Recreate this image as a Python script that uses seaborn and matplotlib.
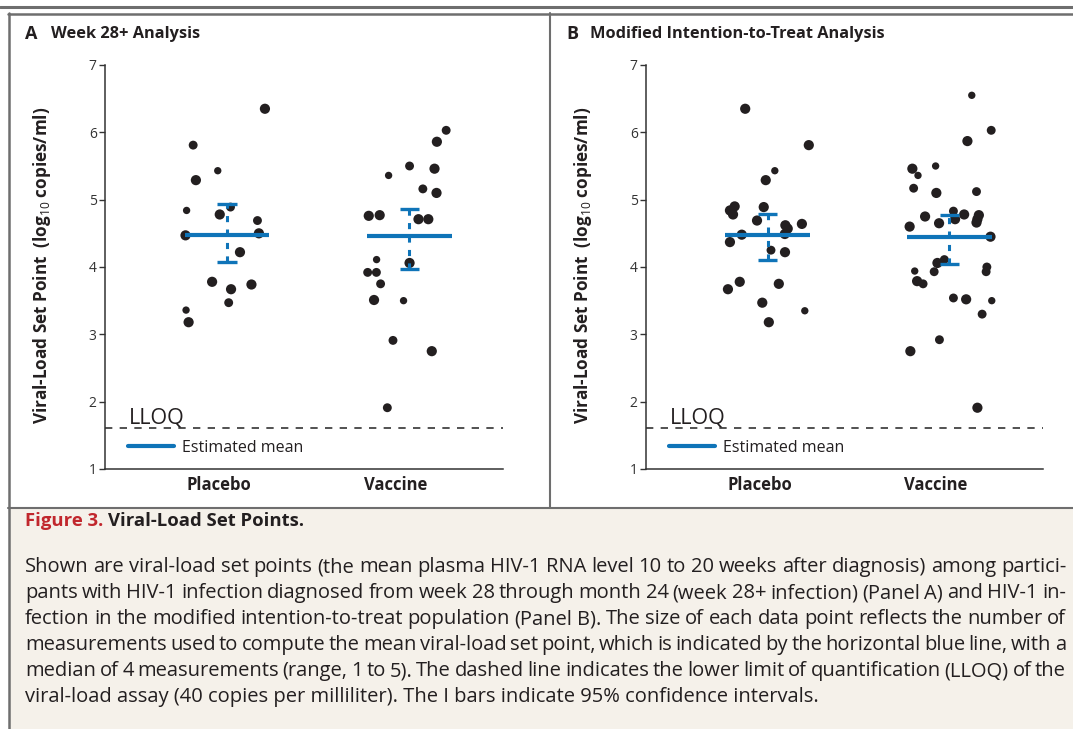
import numpy as np
import pandas as pd
from matplotlib import pyplot as plt
from matplotlib.lines import Line2D
from matplotlib.patches import Rectangle
import seaborn as sns

# Panel A - week 28+ analysis (log10 viral load, number of measurements, horizontal jitter)
a_placebo_vl = [6.35, 5.81, 5.43, 5.29, 4.84, 4.89, 4.78, 4.69, 4.47, 4.50, 4.22, 3.78, 3.67, 3.74, 3.47, 3.36, 3.18]
a_placebo_n = [5, 4, 3, 5, 3, 4, 5, 4, 5, 5, 5, 5, 5, 5, 4, 3, 5]
a_placebo_dx = [0.208, -0.186, -0.051, -0.171, -0.222, 0.019, -0.040, 0.167, -0.228, 0.175, 0.071, -0.082, 0.022, 0.134, 0.009, -0.225, -0.211]

a_vaccine_vl = [6.03, 5.86, 5.50, 5.46, 5.36, 5.16, 5.10, 4.76, 4.77, 4.71, 4.71, 4.11, 4.06, 3.92, 3.92, 3.75, 3.51, 3.50, 2.91, 2.75, 1.91]
a_vaccine_n = [4, 5, 4, 5, 3, 4, 5, 5, 5, 5, 5, 3, 5, 4, 4, 4, 5, 3, 4, 5, 4]
a_vaccine_dx = [0.203, 0.152, 0.002, 0.139, -0.113, 0.075, 0.150, -0.222, -0.162, 0.051, 0.105, -0.179, 0.002, -0.228, -0.180, -0.157, -0.193, -0.031, -0.089, 0.124, -0.120]

a_mean = [4.47, 4.46]
a_ci_low = [4.07, 3.97]
a_ci_high = [4.94, 4.86]

# Panel B - modified intention-to-treat analysis
b_placebo_vl = [6.35, 5.81, 5.43, 5.29, 4.90, 4.84, 4.78, 4.89, 4.69, 4.62, 4.57, 4.64, 4.48, 4.49, 4.37, 4.25, 4.22, 3.78, 3.67, 3.75, 3.47, 3.35, 3.18]
b_placebo_n = [5, 5, 3, 5, 5, 5, 5, 5, 5, 5, 5, 5, 5, 5, 5, 4, 5, 5, 5, 5, 5, 3, 5]
b_placebo_dx = [-0.124, 0.226, 0.039, -0.011, -0.182, -0.208, -0.191, -0.022, -0.059, 0.097, 0.110, 0.188, -0.143, 0.094, -0.208, 0.018, 0.095, -0.154, -0.219, 0.061, -0.030, 0.204, 0.006]

b_vaccine_vl = [6.55, 6.03, 5.87, 5.46, 5.50, 5.36, 5.17, 5.10, 5.12, 4.83, 4.78, 4.71, 4.75, 4.65, 4.77, 4.71, 4.66, 4.60, 4.45, 4.11, 4.06, 3.94, 3.93, 4.00, 3.93, 3.79, 3.75, 3.54, 3.52, 3.50, 3.30, 2.92, 2.75, 1.91]
b_vaccine_n = [3, 4, 5, 5, 3, 3, 4, 5, 4, 4, 5, 5, 5, 5, 5, 5, 5, 5, 5, 4, 5, 3, 4, 4, 4, 5, 4, 4, 5, 3, 4, 4, 5, 5]
b_vaccine_dx = [0.123, 0.230, 0.099, -0.204, -0.076, -0.173, -0.197, -0.072, 0.149, 0.022, 0.081, 0.031, -0.134, -0.057, 0.162, 0.154, 0.149, -0.219, 0.226, -0.028, -0.066, -0.191, -0.084, 0.206, 0.202, -0.178, -0.145, 0.022, 0.092, 0.233, 0.180, -0.055, -0.215, 0.154]

b_mean = [4.48, 4.44]
b_ci_low = [4.11, 4.05]
b_ci_high = [4.79, 4.77]

groups = ["Placebo", "Vaccine"]
lloq = np.log10(40)

caption_title = "Figure 3."
caption_head = "Viral-Load Set Points."
caption_lines = [
    "Shown are viral-load set points (the mean plasma HIV-1 RNA level 10 to 20 weeks after diagnosis) among partici-",
    "pants with HIV-1 infection diagnosed from week 28 through month 24 (week 28+ infection) (Panel A) and HIV-1 in-",
    "fection in the modified intention-to-treat population (Panel B). The size of each data point reflects the number of",
    "measurements used to compute the mean viral-load set point, which is indicated by the horizontal blue line, with a",
    "median of 4 measurements (range, 1 to 5). The dashed line indicates the lower limit of quantification (LLOQ) of the",
    "viral-load assay (40 copies per milliliter). The I bars indicate 95% confidence intervals.",
]

BLUE = "#0f74b8"
DOT = "#231f20"
TEXT = "#231f20"
GRAY = "#6e6e6e"

sns.set_style("ticks")
plt.rcParams["font.family"] = ["Open Sans", "DejaVu Sans"]
plt.rcParams["mathtext.fontset"] = "custom"
plt.rcParams["mathtext.rm"] = "Open Sans"
plt.rcParams["mathtext.bf"] = "Open Sans:bold"

W, H = 1073, 729
fig = plt.figure(figsize=(W / 100, H / 100), dpi=100)
renderer = fig.canvas.get_renderer()

# background axes in pixel coordinates, for frames and caption
bg = fig.add_axes([0, 0, 1, 1], zorder=0)
bg.set_xlim(0, W)
bg.set_ylim(H, 0)
bg.axis("off")

bg.add_patch(Rectangle((9, 508), W - 9, H - 508, color="#f5f1ea", lw=0))
bg.plot([0, W], [7, 7], color=GRAY, lw=2.2)
bg.plot([8, W], [13.5, 13.5], color=GRAY, lw=1.8)
bg.plot([8.5, 8.5], [13, H], color=GRAY, lw=1.8)
bg.plot([550, 550], [13, 508], color=GRAY, lw=1.5)
bg.plot([8, W], [508, 508], color=GRAY, lw=1.5)


def px_axes(left, top, right, bottom):
    return fig.add_axes([left / W, 1 - bottom / H, (right - left) / W, (bottom - top) / H], zorder=1)


def make_frame(pl_vl, pl_n, pl_dx, va_vl, va_n, va_dx):
    rows = []
    for i, (vl, n, dx) in enumerate([(pl_vl, pl_n, pl_dx), (va_vl, va_n, va_dx)]):
        rows.append(pd.DataFrame({"group": groups[i], "x": i + np.array(dx), "vl": vl, "n": n}))
    return pd.concat(rows, ignore_index=True)


panels = [
    ("A", "Week 28+ Analysis", (105, 503), 0,
     make_frame(a_placebo_vl, a_placebo_n, a_placebo_dx, a_vaccine_vl, a_vaccine_n, a_vaccine_dx),
     a_mean, a_ci_low, a_ci_high),
    ("B", "Modified Intention-to-Treat Analysis", (646, 1043), 541,
     make_frame(b_placebo_vl, b_placebo_n, b_placebo_dx, b_vaccine_vl, b_vaccine_n, b_vaccine_dx),
     b_mean, b_ci_low, b_ci_high),
]

for letter, title, (left, right), shift, df, mean, lo, hi in panels:
    ax = px_axes(left, 65, right, 469)
    sns.scatterplot(data=df, x="x", y="vl", size="n", sizes=(28, 54), size_norm=(3, 5),
                    color=DOT, linewidth=0, legend=False, ax=ax, zorder=3)

    xs = np.arange(len(groups))
    ax.hlines(mean, xs - 0.233, xs + 0.233, color=BLUE, lw=3, zorder=4)
    ax.vlines(xs, lo, hi, color=BLUE, lw=2.2, linestyles=(0, (2, 2.4)), zorder=4)
    ax.hlines(lo, xs - 0.053, xs + 0.053, color=BLUE, lw=2.4, zorder=4)
    ax.hlines(hi, xs - 0.053, xs + 0.053, color=BLUE, lw=2.4, zorder=4)

    ax.axhline(lloq, color="#222222", lw=1.1, ls=(0, (4.8, 4.8)), zorder=2)
    ax.text(-0.54, 1.68, "LLOQ", fontsize=15.5, color=TEXT, va="baseline", ha="left")

    handle = Line2D([], [], color=BLUE, lw=3)
    ax.legend([handle], ["Estimated mean"], loc="center left", bbox_to_anchor=(0.058, 0.052),
              frameon=False, handlelength=2.85, handletextpad=0.55, borderpad=0, borderaxespad=0,
              fontsize=11.5, labelcolor=TEXT)

    ax.set_xlim(-0.67, 1.515)
    ax.set_ylim(1, 7)
    ax.set_yticks(range(1, 8))
    ax.set_xticks([-0.045, 0.925])
    ax.set_xticklabels(groups, fontweight="bold", fontsize=12, color=TEXT)
    ax.set_xlabel("")
    ax.set_ylabel("")
    ax.tick_params(axis="x", length=0, pad=5)
    ax.tick_params(axis="y", length=4.5, width=1, labelsize=10, labelcolor="#333333", color="#333333", pad=1.5)
    for side in ["left", "bottom"]:
        ax.spines[side].set_linewidth(1.1)
        ax.spines[side].set_color("#333333")
    sns.despine(ax=ax)

    bg.text(25 + shift, 34, letter, fontsize=13, fontweight="bold", color=TEXT, va="center")
    bg.text(51 + shift - (0 if letter == "A" else 2), 34, title, fontsize=11.8, fontweight="bold",
            color=TEXT, va="center")
    bg.text(42 + shift, 265, r"Viral-Load Set Point  (log$_{10}$ copies/ml)", rotation=90,
            fontsize=12.3, fontweight="bold", color=TEXT, ha="center", va="center")

# caption
t1 = bg.text(25, 521, caption_title, fontsize=13.3, fontweight="bold", color="#c1272d", va="center")
w1 = t1.get_window_extent(renderer).width
bg.text(25 + w1 + 5, 521, caption_head, fontsize=13.3, fontweight="bold", color=TEXT, va="center")

# pick a body size so that the first line fills the text column
probe = bg.text(0, 0, caption_lines[0], fontsize=12)
body_size = 12 * 1041 / probe.get_window_extent(renderer).width
probe.remove()


def justify(y, line, x0=25, x1=1066):
    words = line.split(" ")
    arts = [bg.text(0, y, w, fontsize=body_size, color=TEXT, va="center") for w in words]
    widths = [a.get_window_extent(renderer).width for a in arts]
    gap = (x1 - x0 - sum(widths)) / (len(words) - 1)
    x = x0
    for a, w in zip(arts, widths):
        a.set_x(x)
        x += w + gap


for i, line in enumerate(caption_lines[:-1]):
    justify(567 + 26 * i, line)
bg.text(25, 567 + 26 * (len(caption_lines) - 1), caption_lines[-1], fontsize=body_size, color=TEXT, va="center")

plt.savefig("out.png", dpi=100)
